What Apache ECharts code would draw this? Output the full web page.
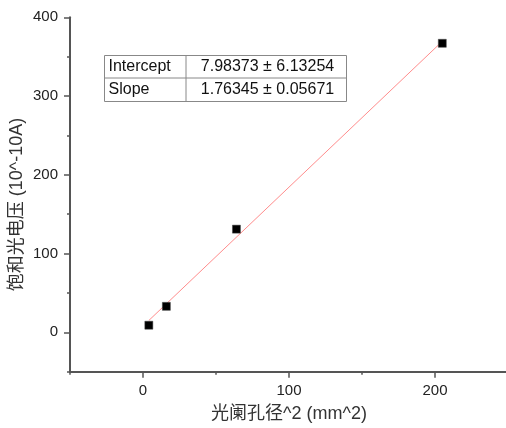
<!DOCTYPE html>
<html>
<head>
<meta charset="utf-8">
<style>
  html, body { margin: 0; padding: 0; background: #fff; }
  #chart { width: 506px; height: 428px; }
</style>
<script src="https://cdn.jsdelivr.net/npm/echarts@6/dist/echarts.min.js"></script>
</head>
<body>
<div id="chart"></div>
<script>
// Measured points: aperture diameter squared vs. saturation photocurrent
var apertureSq = [4, 16, 64, 205];
var saturation = [9, 33, 131, 367];

// Linear fit results shown in the table
var fitIntercept = 7.98373, fitInterceptErr = 6.13254;
var fitSlope = 1.76345, fitSlopeErr = 0.05671;
var fitRange = [4, 205];

// Axis ticks
var xMajor = [0, 100, 200];
var xMinor = [-50, 50, 150, 250];
var yMajor = [0, 100, 200, 300, 400];
var yMinor = [-50, 50, 150, 250, 350];

var FONT = '"Liberation Sans", Arial, "Noto Sans CJK SC", sans-serif';
var AXIS_COLOR = '#555';

var fitLine = fitRange.map(function (x) { return [x, fitIntercept + fitSlope * x]; });
var points = apertureSq.map(function (x, i) { return [x, saturation[i]]; });

function axisPair(dim, major, minor, extra) {
  var base = {
    type: 'value', min: -50, max: dim === 'x' ? 250 : 400,
    interval: 50, splitLine: { show: false }
  };
  var main = Object.assign({}, base, {
    axisLine: { show: true, onZero: false, lineStyle: { color: AXIS_COLOR, width: 2 } },
    axisTick: { show: true, length: 6, customValues: major, lineStyle: { color: AXIS_COLOR, width: 1.5 } },
    axisLabel: { show: true, customValues: major, color: '#222', fontSize: 15, fontFamily: FONT, margin: 12 }
  }, extra);
  var minorAxis = Object.assign({}, base, {
    position: extra.position,
    axisLine: { show: false, onZero: false },
    axisTick: { show: true, length: 3, customValues: minor, lineStyle: { color: AXIS_COLOR, width: 1.5 } },
    axisLabel: { show: false }
  });
  return [main, minorAxis];
}

var chart = echarts.init(document.getElementById('chart'), null, { renderer: 'canvas' });

chart.setOption({
  animation: false,
  backgroundColor: '#fff',
  grid: { left: 70, right: -2, top: 17.3, bottom: 56.3, containLabel: false, outerBoundsMode: 'none' },
  xAxis: axisPair('x', xMajor, xMinor, {
    position: 'bottom',
    name: '光阑孔径^2 (mm^2)', nameLocation: 'middle', nameGap: 33, nameMoveOverlap: false,
    nameTextStyle: { fontSize: 18, color: '#333', fontFamily: FONT }
  }),
  yAxis: axisPair('y', yMajor, yMinor, {
    position: 'left',
    name: '饱和光电压 (10^-10A)', nameLocation: 'middle', nameGap: 44, nameMoveOverlap: false,
    nameTextStyle: { fontSize: 18, color: '#333', fontFamily: FONT, padding: [0, 20, 0, 0] }
  }),
  series: [
    {
      type: 'line', data: fitLine, showSymbol: false, symbol: 'none',
      lineStyle: { color: '#ff8c8c', width: 1 }, z: 2, silent: true
    },
    {
      type: 'scatter', data: points, symbol: 'rect', symbolSize: 8,
      itemStyle: { color: '#000', borderColor: '#444', borderWidth: 0.5, opacity: 1 }, z: 3
    }
  ],
  graphic: [{
    type: 'group', left: 102, top: 53,
    children: [
      { type: 'rect', shape: { x: 0, y: 0, width: 242, height: 46 },
        style: { fill: '#fff', stroke: '#888', lineWidth: 1 } },
      { type: 'line', shape: { x1: 0, y1: 22.5, x2: 242, y2: 22.5 }, style: { stroke: '#888', lineWidth: 1 } },
      { type: 'line', shape: { x1: 81.5, y1: 0, x2: 81.5, y2: 46 }, style: { stroke: '#888', lineWidth: 1 } },
      { type: 'text', x: 4, y: 11.5, style: { text: 'Intercept', font: '16px ' + FONT, fill: '#111', verticalAlign: 'middle' } },
      { type: 'text', x: 4, y: 34.5, style: { text: 'Slope', font: '16px ' + FONT, fill: '#111', verticalAlign: 'middle' } },
      { type: 'text', x: 163, y: 11.5, style: { text: fitIntercept.toFixed(5) + ' ± ' + fitInterceptErr.toFixed(5),
        font: '16px ' + FONT, fill: '#111', align: 'center', verticalAlign: 'middle' } },
      { type: 'text', x: 163, y: 34.5, style: { text: fitSlope.toFixed(5) + ' ± ' + fitSlopeErr.toFixed(5),
        font: '16px ' + FONT, fill: '#111', align: 'center', verticalAlign: 'middle' } }
    ]
  }]
});
</script>
</body>
</html>
